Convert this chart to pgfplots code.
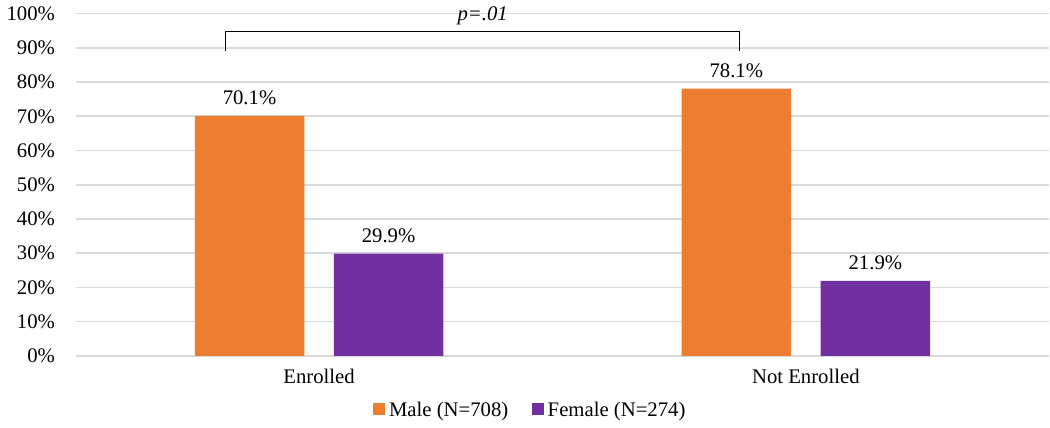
\documentclass[border=0pt]{standalone}
\usepackage{fontspec}
\setmainfont{Liberation Serif}
\usepackage{pgfplots}
\pgfplotsset{compat=1.18}
\definecolor{maleor}{HTML}{ED7D31}
\definecolor{femalepu}{HTML}{7030A0}
\begin{document}
\begin{tikzpicture}[font=\fontsize{10.5}{12.5}\selectfont]
\begin{axis}[
  scale only axis, width=493.5pt, height=173.5pt,
  ybar=15pt, bar width=55.5pt,
  xmin=-0.5, xmax=1.5, ymin=0, ymax=100,
  xtick={0,1}, xticklabels={Enrolled,Not Enrolled},
  ytick={0,10,...,100}, yticklabel={\pgfmathprintnumber{\tick}\%},
  /pgf/number format/assume math mode=true,
  ymajorgrids, grid style={black!15, line width=0.8pt},
  axis line style={draw=none}, major tick length=0pt,
  yticklabel style={xshift=-7pt},
  xticklabel style={yshift=-3pt},
  clip=false,
  nodes near coords={\pgfmathprintnumber[fixed,fixed zerofill,precision=1]{\pgfplotspointmeta}\%},
  nodes near coords style={/pgf/number format/assume math mode=true, yshift=2pt},
  legend style={draw=none, at={(0.468,-0.161)}, anchor=center, legend columns=2,
    /tikz/every even column/.append style={column sep=10pt}},
  legend image code/.code={\fill[#1] (0,-0.2em) rectangle (0.6em,0.4em);},
]
\addplot[fill=maleor, draw=none] coordinates {(0,70.1) (1,78.1)};
\addplot[fill=femalepu, draw=none] coordinates {(0,29.9) (1,21.9)};
\legend{Male (N=708), Female (N=274)}
\draw[black, line width=0.8pt] (axis cs:-0.192,89) -- (axis cs:-0.192,94.8) -- (axis cs:0.864,94.8) -- (axis cs:0.864,89);
\node[font=\fontsize{10.5}{12.5}\selectfont\itshape] at (axis cs:0.336,99.3) {p=.01};
\end{axis}
\end{tikzpicture}
\end{document}
